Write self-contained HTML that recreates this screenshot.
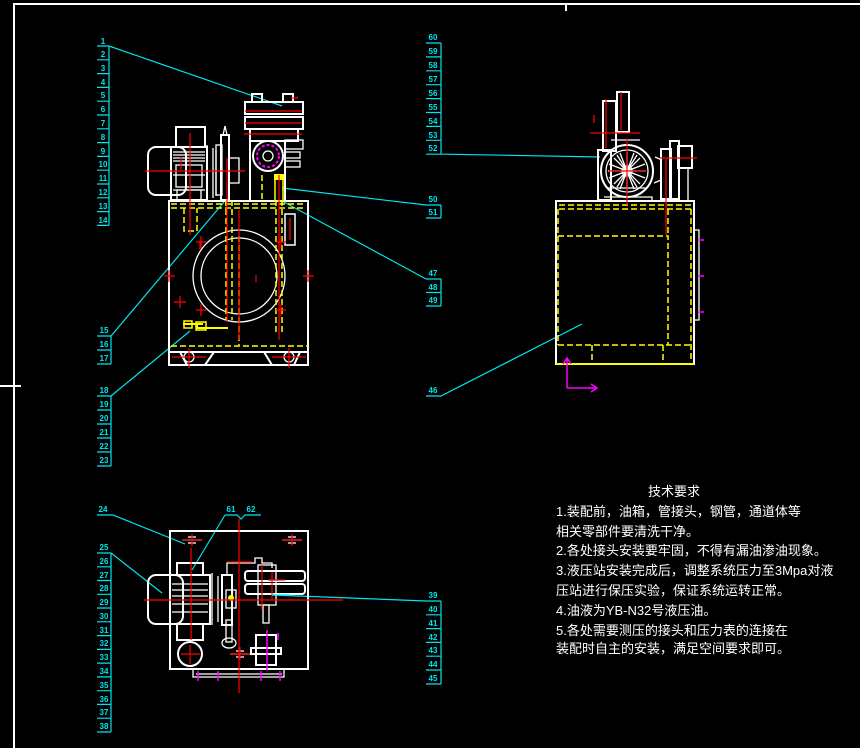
<!DOCTYPE html>
<html><head><meta charset="utf-8"><style>
html,body{margin:0;padding:0;background:#000;width:860px;height:748px;overflow:hidden}
svg{display:block}
.c{stroke:#00e5ee;stroke-width:1.2;fill:none}
.t{fill:#00e5ee;font-family:"Liberation Sans",sans-serif;font-size:8px;text-anchor:middle;font-weight:bold}
.w{stroke:#fff;stroke-width:2;fill:none}
.w1{stroke:#fff;stroke-width:1.3;fill:none}
.r{stroke:#f00;stroke-width:1.2}
.y{stroke:#ff0;stroke-width:1.5;fill:none;stroke-dasharray:6 3}
.m{stroke:#f0f;stroke-width:1.5;fill:none}
.tx{position:absolute;left:556px;color:#fff;font-family:"Liberation Sans","Noto Sans CJK SC",sans-serif;font-size:13px;line-height:13px;white-space:nowrap}
</style></head><body>
<svg width="860" height="748" viewBox="0 0 860 748" style="position:absolute;left:0;top:0">
<path d="M14 748V4H860" stroke="#fff" stroke-width="2" fill="none"/>
<path d="M566 4V11M0 386H21" stroke="#fff" stroke-width="2"/>

<g class="c"><path d="M109 46V225.4M97 46H109M97 59.8H109M97 73.6H109M97 87.4H109M97 101.2H109M97 115H109M97 128.8H109M97 142.6H109M97 156.4H109M97 170.2H109M97 184H109M97 197.8H109M97 211.6H109M97 225.4H109"/>
<path d="M109 46L282 106"/></g>
<g class="t"><text x="103" y="44">1</text><text x="103" y="57">2</text><text x="103" y="71">3</text><text x="103" y="85">4</text><text x="103" y="98">5</text><text x="103" y="112">6</text><text x="103" y="126">7</text><text x="103" y="140">8</text><text x="103" y="154">9</text><text x="103" y="167">10</text><text x="103" y="181">11</text><text x="103" y="195">12</text><text x="103" y="209">13</text><text x="103" y="223">14</text></g>
<g class="c"><path d="M111 336V364M97 336H111M97 350H111M97 364H111M111 336L224 202"/></g>
<g class="t"><text x="104" y="333">15</text><text x="104" y="347">16</text><text x="104" y="361">17</text></g>
<g class="c"><path d="M111 396V466M97 396H111M97 410H111M97 424H111M97 438H111M97 452H111M97 466H111M111 396L190 331"/></g>
<g class="t"><text x="104" y="393">18</text><text x="104" y="407">19</text><text x="104" y="421">20</text><text x="104" y="435">21</text><text x="104" y="449">22</text><text x="104" y="463">23</text></g>
<g class="c"><path d="M441 43V154.2M426 43H441M426 56.9H441M426 70.8H441M426 84.7H441M426 98.6H441M426 112.5H441M426 126.4H441M426 140.3H441M426 154.2H447L600 157"/></g>
<g class="t"><text x="433" y="40">60</text><text x="433" y="54">59</text><text x="433" y="68">58</text><text x="433" y="82">57</text><text x="433" y="96">56</text><text x="433" y="110">55</text><text x="433" y="124">54</text><text x="433" y="138">53</text><text x="433" y="151">52</text></g>
<g class="c"><path d="M441 205V218M426 205H441M426 218H441M426 205L282 188"/></g>
<g class="t"><text x="433" y="202">50</text><text x="433" y="215">51</text></g>
<g class="c"><path d="M441 279V306M426 279H441M426 292.5H441M426 306H441M426 279L282 201"/></g>
<g class="t"><text x="433" y="276">47</text><text x="433" y="290">48</text><text x="433" y="303">49</text></g>
<g class="c"><path d="M426 396H441L582 324"/></g>
<text class="t" x="433" y="393">46</text>
<g class="c"><path d="M97 515H113L185 544"/></g>
<text class="t" x="103" y="512">24</text>
<g class="c"><path d="M225 515H237L241 519L245 515H261M225 515L192 570"/></g>
<g class="t"><text x="231" y="512">61</text><text x="251" y="512">62</text></g>
<g class="c"><path d="M111 553V732M97 553H111M97 566.8H111M97 580.5H111M97 594.3H111M97 608H111M97 621.8H111M97 635.6H111M97 649.4H111M97 663.1H111M97 676.9H111M97 690.7H111M97 704.4H111M97 718.2H111M97 732H111M111 553L162 593"/></g>
<g class="t"><text x="104" y="550">25</text><text x="104" y="564">26</text><text x="104" y="578">27</text><text x="104" y="591">28</text><text x="104" y="605">29</text><text x="104" y="619">30</text><text x="104" y="633">31</text><text x="104" y="646">32</text><text x="104" y="660">33</text><text x="104" y="674">34</text><text x="104" y="688">35</text><text x="104" y="702">36</text><text x="104" y="715">37</text><text x="104" y="729">38</text></g>
<g class="c"><path d="M441 601V684M426 601H441M426 614.8H441M426 628.6H441M426 642.4H441M426 656.2H441M426 670H441M426 684H441M426 601L272 595"/></g>
<g class="t"><text x="433" y="598">39</text><text x="433" y="612">40</text><text x="433" y="626">41</text><text x="433" y="640">42</text><text x="433" y="653">43</text><text x="433" y="667">44</text><text x="433" y="681">45</text></g>

<!-- Front view -->
<g>
<rect class="w" x="169" y="201" width="139" height="164"/>
<path class="w" d="M169 352H308"/>
<path class="w" d="M180 352L187 365M205 365L214 352M264 352L272 365M294 365L300 352"/>
<circle class="w1" cx="189" cy="357" r="5"/><circle class="w1" cx="289" cy="357" r="5"/>
<circle class="w1" cx="239" cy="276" r="46"/><circle class="w1" cx="239" cy="276" r="38"/>
<path class="y" d="M171 204H306M171 208H306M171 346H308M239 236V345M184 208V231H197V208M226 200V320M232 200V320M276 200V335M282 200V335"/>
<rect x="285" y="214" width="10" height="31" fill="none" stroke="#fff" stroke-width="1.5"/>
<path class="r" d="M290 218V240"/>
<path d="M183 324H203M197 324V328H228" stroke="#ff0" stroke-width="2" fill="none"/>
<rect x="184" y="321" width="8" height="7" fill="none" stroke="#ff0" stroke-width="1.5"/>
<rect x="196" y="322" width="10" height="8" fill="none" stroke="#ff0" stroke-width="1.5"/>
<rect class="w" x="148" y="147" width="38" height="48" rx="8"/>
<rect class="w" x="171" y="147" width="36" height="53"/>
<rect class="w" x="176" y="127" width="29" height="20"/>
<path class="w1" d="M173 152H205M173 155H205M173 158H205M173 161H205M173 175H205M173 190H205M207 145V200M213 148V198M216 150V196"/>
<rect class="w1" x="176" y="165" width="26" height="22"/>
<rect class="w1" x="177" y="190" width="24" height="10"/>
<rect class="w" x="221" y="135" width="8" height="65"/>
<path class="w1" d="M223 135L225 126L227 135"/>
<rect class="w1" x="229" y="158" width="10" height="25"/>
<rect class="w1" x="216" y="145" width="6" height="50"/>
<rect class="w" x="252" y="94" width="10" height="8"/><rect class="w" x="283" y="94" width="10" height="8"/>
<rect class="w" x="245" y="102" width="58" height="12"/>
<rect class="w" x="245" y="117" width="58" height="12"/>
<rect class="w" x="250" y="129" width="48" height="12"/>
<rect class="w" x="250" y="141" width="35" height="60"/>
<circle class="w" cx="268" cy="156" r="15"/>
<circle cx="268" cy="156" r="11" stroke="#f0f" stroke-width="2" fill="none" stroke-dasharray="3 2"/>
<circle class="w1" cx="268" cy="156" r="5"/>
<rect class="w1" x="285" y="140" width="18" height="9"/><rect class="w1" x="285" y="152" width="15" height="6"/><rect class="w1" x="285" y="161" width="15" height="6"/>
<path class="y" d="M262 175V201"/>
<rect x="275" y="176" width="8" height="25" fill="none" stroke="#ff0" stroke-width="1.5"/>
<rect x="274" y="174" width="10" height="6" fill="#ff0"/>
<path class="r" d="M190 133V235M145 171H245M227 158V322M279 175V340M245 111H302M245 123H302M244 134H302M291 98H298M181 157V170M239 210V340M256 275V282M200 242V250"/>
<path class="r" d="M174 302H186M180 296V308M164 276H175M169 270V282M303 276H314M308 270V282M196 242H206M201 236V248M276 242H286M281 236V248M196 310H206M201 304V316M276 310H286M281 304V316M172 357H206M189 348V368M272 357H306M289 348V368"/>
</g>

<!-- Side view -->
<g>
<rect class="w" x="556" y="201" width="138" height="163"/>
<path d="M556 364H694" stroke="#ff0" stroke-width="2"/>
<path class="y" d="M559 205H691M559 209H691M558 236H668V345M558 345H691M668 209V236M691 209V362M592 345V364M663 345V364M558 209V345"/>
<path class="w1" d="M694 230H699V320H694"/>
<path class="m" d="M698 240H704M698 276H704M698 312H704"/>
<circle class="w" cx="627" cy="171" r="26"/><circle class="w1" cx="627" cy="171" r="21"/><circle class="w1" cx="627" cy="171" r="5"/>
<path class="w1" d="M627 152V190M608 171H646M614 158L640 184M640 158L614 184M620 153L634 189M634 153L620 189M609 164L645 178M645 164L609 178M609 178L645 164M617 155L637 187M637 155L617 187"/>
<rect class="w" x="603" y="101" width="13" height="50"/><rect class="w" x="617" y="92" width="12" height="40"/>
<rect class="w" x="598" y="150" width="13" height="50"/>
<path class="w1" d="M604 197H652V201M611 140H640M608 188H646"/>
<rect class="w" x="661" y="149" width="10" height="50"/><rect class="w" x="670" y="141" width="9" height="58"/><rect class="w" x="678" y="146" width="14" height="22"/>
<path class="w1" d="M655 157L662 160M654 183L661 180M688 168V201"/>
<path class="r" d="M606 99V148M621 92V130M590 133H640M627 138V205M609 171H646M666 158V235M660 158H697M594 115V123"/>
<path class="m" d="M567 388V358M563 364L567 358L571 364M567 388H597M591 384L597 388L591 392"/>
</g>

<!-- Top view -->
<g>
<rect class="w" x="170" y="531" width="138" height="138"/>
<path class="w1" d="M193 669V677H284V669M196 674H282"/>
<path class="m" d="M198 671V681M218 671V681M261 671V681M280 671V681"/>
<rect class="w" x="148" y="575" width="35" height="49" rx="8"/>
<rect class="w" x="170" y="575" width="40" height="49"/>
<rect class="w" x="177" y="563" width="26" height="12"/>
<rect class="w" x="177" y="624" width="26" height="16"/>
<path class="w1" d="M172 584H208M172 590H208M172 596H208M172 604H208M172 612H208M212 573V625M218 576V622"/>
<circle class="w" cx="190" cy="654" r="12"/>
<rect class="w" x="222" y="575" width="10" height="50"/>
<rect class="w1" x="226" y="590" width="10" height="18"/>
<circle cx="231" cy="598" r="3" fill="#ff0"/>
<rect class="w1" x="226" y="620" width="6" height="22"/>
<ellipse class="w1" cx="229" cy="643" rx="7" ry="5"/>
<path class="w1" d="M227 575V563H255V558H262V563H272V568"/>
<rect class="w" x="245" y="571" width="60" height="10" rx="3"/>
<rect class="w" x="245" y="584" width="60" height="10" rx="3"/>
<rect class="w1" x="258" y="565" width="18" height="40"/>
<rect class="w1" x="263" y="605" width="6" height="18"/>
<rect class="w" x="256" y="635" width="20" height="30"/>
<rect class="w" x="251" y="648" width="30" height="6"/>
<path class="w1" d="M182 540H202M188 537H196M188 543H196M282 540H302M288 537H296M288 543H296M230 654H250M236 651H244M236 657H244"/>
<path class="r" d="M144 600H343M239 519V693M191 548V640M181 654H200M190 645V664M182 540H202M192 534V546M282 540H302M292 534V546M230 654H250M240 647V660M227 562H252M262 565V610M272 572V600M268 580H285"/>
<path class="m" d="M267 630V670M278 633V640"/>
<path class="c" d="M272 595H290"/>
</g>
</svg>

<div class="tx" style="left:648px;top:485px">技术要求</div>
<div class="tx" style="top:505px">1.装配前，油箱，管接头，钢管，通道体等</div>
<div class="tx" style="top:525px">相关零部件要清洗干净。</div>
<div class="tx" style="top:544px">2.各处接头安装要牢固，不得有漏油渗油现象。</div>
<div class="tx" style="top:564px">3.液压站安装完成后，调整系统压力至3Mpa对液</div>
<div class="tx" style="top:584px">压站进行保压实验，保证系统运转正常。</div>
<div class="tx" style="top:604px">4.油液为YB-N32号液压油。</div>
<div class="tx" style="top:624px">5.各处需要测压的接头和压力表的连接在</div>
<div class="tx" style="top:642px">装配时自主的安装，满足空间要求即可。</div>
</body></html>
